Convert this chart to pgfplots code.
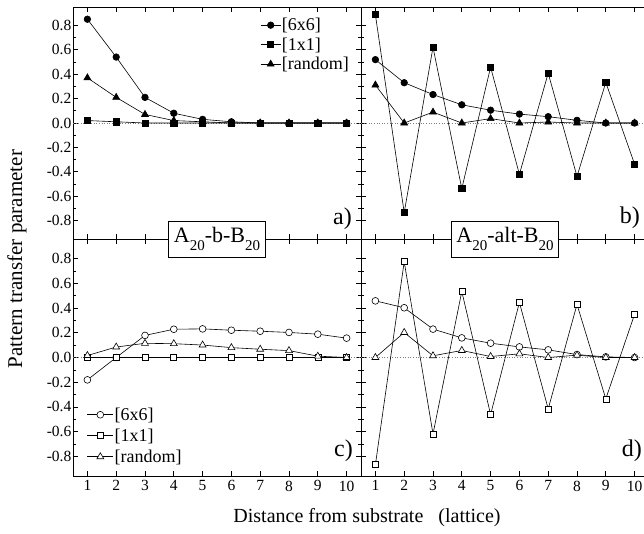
\documentclass[border=0pt]{standalone}
\usepackage{fontspec}
\setmainfont{Liberation Serif}
\usepackage{pgfplots}
\pgfplotsset{compat=1.18}

\newcommand\sub[1]{\raisebox{-0.38em}{\fontsize{15}{15}\selectfont #1}}
\tikzset{plabel/.style={anchor=base east, inner sep=0pt, font=\fontsize{24}{24}\selectfont}}
\pgfplotsset{
  panel/.style={
    scale only axis, width=288pt,
    xmin=0.5, xmax=10.5, xtick={1,2,3,4,5,6,7,8,9,10},
    ytick={-0.8,-0.6,-0.4,-0.2,0,0.2,0.4,0.6,0.8},
    minor y tick num=1,
    major tick length=5pt, minor tick length=3pt,
    axis line style={line width=0.9pt},
    every tick/.style={black, line width=0.7pt},
    tick label style={font=\fontsize{15.5}{15.5}\selectfont, inner sep=1.5pt},
    /pgf/number format/assume math mode=true,
    yticklabel style={/pgf/number format/.cd, fixed, fixed zerofill, precision=1},
    xticklabel style={yshift=-3pt},
    clip=false,
    every axis plot/.append style={black, line width=0.6pt, mark size=3.3pt},
    legend cell align=left,
  },
  toppanel/.style={panel, height=232pt, ymin=-0.95, ymax=0.95, xticklabels={}},
  botpanel/.style={panel, height=237pt, ymin=-0.96, ymax=0.96},
  zeroline/.style={gray, dotted, line width=0.6pt, forget plot, mark=none},
  fc/.style={mark=*, mark options={fill=black, solid}},
  fs/.style={mark=square*, mark size=3.1pt, mark options={fill=black, solid}},
  ft/.style={mark=triangle*, mark size=4pt, mark options={fill=black, solid}},
  oc/.style={mark=*, mark size=3.4pt, mark options={fill=white, solid}},
  os/.style={mark=square*, mark size=3.0pt, mark options={fill=white, solid}},
  ot/.style={mark=triangle*, mark size=4pt, mark options={fill=white, solid}},
}

\begin{document}
\begin{tikzpicture}
% ---------- a ----------
\begin{axis}[toppanel, name=a, at={(0pt,0pt)}, anchor=south east,
  legend image code/.code={\draw[mark repeat=2, mark phase=2] plot coordinates {(0pt,0pt) (10pt,0pt) (20pt,0pt)};},
  legend style={draw=none, fill=none, inner sep=0pt, row sep=3.5pt,
    font=\fontsize{18}{18}\selectfont, nodes={inner sep=1pt},
    at={(axis description cs:0.65,0.957)}, anchor=north west}]
\addplot[zeroline] coordinates {(0.5,0) (10.5,0)};
\addplot[fc] coordinates {(1,0.85) (2,0.54) (3,0.21) (4,0.08) (5,0.03) (6,0.01) (7,0.0) (8,0.0) (9,0.0) (10,0.0)};
\addlegendentry{[6x6]}
\addplot[fs] coordinates {(1,0.02) (2,0.01) (3,0.0) (4,0.0) (5,0.0) (6,0.0) (7,0.0) (8,0.0) (9,0.0) (10,0.0)};
\addlegendentry{[1x1]}
\addplot[ft] coordinates {(1,0.37) (2,0.21) (3,0.07) (4,0.02) (5,0.01) (6,0.0) (7,0.0) (8,0.0) (9,0.0) (10,0.0)};
\addlegendentry{[random]}
\node[plabel, xshift=-9pt, yshift=15pt] at (rel axis cs:1,0) {a)};
\end{axis}
% ---------- b ----------
\begin{axis}[toppanel, name=b, at={(0pt,0pt)}, anchor=south west, yticklabels={}]
\addplot[zeroline] coordinates {(0.5,0) (10.5,0)};
\addplot[fs] coordinates {(1,0.887) (2,-0.734) (3,0.62) (4,-0.537) (5,0.457) (6,-0.42) (7,0.408) (8,-0.437) (9,0.332) (10,-0.337)};
\addplot[fc] coordinates {(1,0.519) (2,0.33) (3,0.233) (4,0.149) (5,0.105) (6,0.073) (7,0.052) (8,0.022) (9,0.0) (10,0.0)};
\addplot[ft] coordinates {(1,0.311) (2,0.0) (3,0.089) (4,0.0) (5,0.036) (6,0.0) (7,0.008) (8,0.0) (9,0.0) (10,0.0)};
\node[plabel, xshift=-9pt, yshift=16pt] at (rel axis cs:1,0) {b)};
\end{axis}
% ---------- c ----------
\begin{axis}[botpanel, name=c, at={(0pt,0pt)}, anchor=north east,
  legend image code/.code={\draw[mark repeat=2, mark phase=2] plot coordinates {(0pt,0pt) (13pt,0pt) (26pt,0pt)};},
  legend style={draw=none, fill=none, inner sep=0pt, row sep=5pt,
    font=\fontsize{18}{18}\selectfont, nodes={inner sep=1pt},
    at={(axis description cs:0.048,0.293)}, anchor=north west}]
\addplot[zeroline] coordinates {(0.5,0) (10.5,0)};
\addplot[oc] coordinates {(1,-0.181) (2,0.0) (3,0.179) (4,0.229) (5,0.232) (6,0.221) (7,0.213) (8,0.203) (9,0.189) (10,0.157)};
\addlegendentry{[6x6]}
\addplot[os] coordinates {(1,0.0) (2,0.0) (3,0.0) (4,0.0) (5,0.0) (6,0.0) (7,0.0) (8,0.0) (9,0.0) (10,0.0)};
\addlegendentry{[1x1]}
\addplot[ot] coordinates {(1,0.016) (2,0.085) (3,0.115) (4,0.112) (5,0.101) (6,0.08) (7,0.067) (8,0.056) (9,0.011) (10,0.0)};
\addlegendentry{[random]}
\node[plabel, xshift=-8pt, yshift=20pt] at (rel axis cs:1,0) {c)};
\end{axis}
% ---------- d ----------
\begin{axis}[botpanel, name=d, at={(0pt,0pt)}, anchor=north west, yticklabels={}]
\addplot[zeroline] coordinates {(0.5,0) (10.5,0)};
\addplot[os] coordinates {(1,-0.868) (2,0.776) (3,-0.619) (4,0.535) (5,-0.462) (6,0.446) (7,-0.416) (8,0.43) (9,-0.335) (10,0.351)};
\addplot[oc] coordinates {(1,0.459) (2,0.403) (3,0.23) (4,0.159) (5,0.116) (6,0.086) (7,0.062) (8,0.024) (9,0.005) (10,0.0)};
\addplot[ot] coordinates {(1,0.0) (2,0.203) (3,0.014) (4,0.057) (5,0.008) (6,0.03) (7,0.0) (8,0.019) (9,0.0) (10,0.0)};
\node[plabel, xshift=-7pt, yshift=20pt] at (rel axis cs:1,0) {d)};
\end{axis}
% ---------- titles and labels ----------
\node[draw, line width=0.9pt, fill=white, inner xsep=5pt, minimum height=36pt,
  font=\fontsize{22}{22}\selectfont] at (c.north) {A\sub{20}-b-B\sub{20}};
\node[draw, line width=0.9pt, fill=white, inner xsep=5pt, minimum height=36pt,
  font=\fontsize{22}{22}\selectfont] at (d.north) {A\sub{20}-alt-B\sub{20}};
\node[rotate=90, font=\fontsize{21}{21}\selectfont] at (-344pt,-20pt) {Pattern transfer parameter};
\node[font=\fontsize{20}{20}\selectfont] at (6pt,-279pt) {Distance from substrate \ \ (lattice)};
\pgfresetboundingbox
\path[use as bounding box] (-361pt,-294pt) rectangle (283pt,239pt);
\end{tikzpicture}
\end{document}
